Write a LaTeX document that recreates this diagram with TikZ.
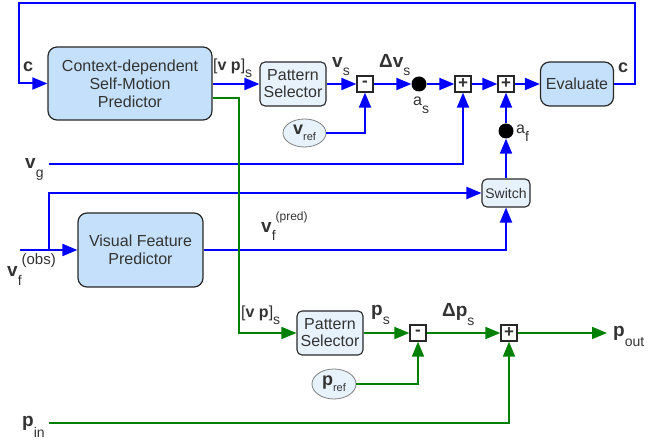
\documentclass[tikz,border=0pt]{standalone}
\usepackage{fontspec}
\setmainfont{Liberation Sans}
\usetikzlibrary{arrows.meta,shapes.geometric}
\definecolor{bl}{RGB}{0,0,255}
\definecolor{gr}{RGB}{0,128,0}
\definecolor{boxfill}{RGB}{197,224,250}
\definecolor{lightfill}{RGB}{232,242,253}
\definecolor{txt}{RGB}{51,51,51}
\definecolor{border}{RGB}{40,40,40}
\newcommand\mysub[2][8pt]{\raisebox{-#1}{\fontsize{14}{14}\selectfont\mdseries #2}}
\newcommand\mysup[3][11pt]{\raisebox{#1}{\fontsize{#2}{#2}\selectfont\mdseries #3}}
\begin{document}
\begin{tikzpicture}[x=1pt,y=-1pt,
  font=\fontsize{16}{18}\selectfont, text=txt,
  bigbox/.style={draw=border, line width=1.2pt, fill=boxfill, rounded corners=9pt, align=center, inner sep=0pt},
  selbox/.style={draw=border, line width=1.1pt, fill=lightfill, rounded corners=5pt, align=center, inner sep=0pt, font=\fontsize{16}{17}\selectfont},
  sumbox/.style={draw=border, line width=1.3pt, fill=white, minimum size=16pt, inner sep=0pt, font=\bfseries\fontsize{17}{17}\selectfont},
  blackdot/.style={circle, fill=black, minimum size=15pt, inner sep=0pt},
  refell/.style={ellipse, draw=gray, line width=0.8pt, fill=lightfill, inner sep=0pt},
  bline/.style={draw=bl, line width=2pt},
  gline/.style={draw=gr, line width=1.7pt},
  arr/.style={-{Triangle[length=15pt,width=12pt]}},
  lbl/.style={inner sep=0pt, anchor=base west},
  bigv/.style={font=\bfseries\fontsize{19}{19}\selectfont}
]
\useasboundingbox (0,0) rectangle (648,443);

% blocks
\node[bigbox, minimum width=164pt, minimum height=73pt] (cdsmp) at (130,83.5) {Context-dependent\\Self-Motion\\Predictor};
\node[selbox, minimum width=66pt, minimum height=44pt] (ps1) at (293,84) {Pattern\\Selector};
\node[sumbox] (m1) at (365,84) {-};
\node[blackdot] (as) at (419,84) {};
\node[sumbox] (p1) at (463,84) {+};
\node[sumbox] (p2) at (506,84) {+};
\node[bigbox, minimum width=73pt, minimum height=44pt] (eval) at (577,84) {Evaluate};
\node[refell, minimum width=43pt, minimum height=28pt] (vref) at (304.5,133) {\bfseries\fontsize{18}{18}\selectfont v\raisebox{-6pt}{\fontsize{11}{11}\selectfont\mdseries ref}};
\node[blackdot] (af) at (506,131) {};
\node[selbox, font=\fontsize{14}{14}\selectfont, minimum width=48pt, minimum height=28pt] (sw) at (506,193) {Switch};
\node[bigbox, minimum width=125pt, minimum height=74pt] (vfp) at (140.5,250) {Visual Feature\\Predictor};
\node[selbox, minimum width=66pt, minimum height=44pt] (ps2) at (330,333) {Pattern\\Selector};
\node[sumbox] (m2) at (418,333) {-};
\node[sumbox] (p3) at (509,333) {+};
\node[refell, minimum width=44pt, minimum height=30pt] (pref) at (334,384) {\bfseries\fontsize{18}{18}\selectfont p\raisebox{-6pt}{\fontsize{11}{11}\selectfont\mdseries ref}};

% free ends and bends
\coordinate (loopR) at (635,3);
\coordinate (loopL) at (19,3);
\coordinate (vgin) at (49,164);
\coordinate (vfin) at (20,250);
\coordinate (vfbr) at (49,250);
\coordinate (gy) at (239,98);
\coordinate (pin) at (49,423);
\coordinate (pout) at (607,333);

% blue connectors
\draw[bline,arr] (eval.east) -| (loopR) -- (loopL) |- (cdsmp.west);
\draw[bline,arr] (cdsmp.east |- ps1.west) -- (ps1.west);
\draw[bline,arr] (ps1.east) -- (m1.west);
\draw[bline,arr] (m1.east) -- (as.west);
\draw[bline,arr] (as.east) -- (p1.west);
\draw[bline,arr] (p1.east) -- (p2.west);
\draw[bline,arr] (p2.east) -- (eval.west);
\draw[bline,arr] (vref.east) -| (m1.south);
\draw[bline,arr] (vgin) -| (p1.south);
\draw[bline,arr] (vfbr) |- (sw.west);
\draw[bline,arr] (vfin) -- (vfp.west);
\draw[bline,arr] (vfp.east) -| (sw.south);
\draw[bline,arr] (sw.north) -- (af.south);
\draw[bline,arr] (af.north) -- (p2.south);

% green connectors
\draw[gline,arr] (cdsmp.east |- gy) -- (gy) |- (ps2.west);
\draw[gline,arr] (ps2.east) -- (m2.west);
\draw[gline,arr] (m2.east) -- (p3.west);
\draw[gline,arr] (p3.east) -- (pout);
\draw[gline,arr] (pref.east) -| (m2.south);
\draw[gline,arr] (pin) -| (p3.south);

% labels
\node[lbl, font=\bfseries\fontsize{18}{18}\selectfont] (lc1) at (23,72) {c};
\node[lbl, font=\bfseries\fontsize{18}{18}\selectfont] (lc2) at (618,73) {c};
\node[lbl] (lvp1) at (213,71) {[{\bfseries v p}]\mysub[7pt]{s}};
\node[lbl, bigv] (lvs) at (332,68) {v\mysub{s}};
\node[lbl, bigv] (ldvs) at (379,68) {Δv\mysub{s}};
\node[lbl] (las) at (413,106) {a\mysub{s}};
\node[lbl] (laf) at (516,134) {a\mysub{f}};
\node[lbl, bigv] (lvg) at (25,169) {v\mysub[9pt]{g}};
\node[lbl, bigv] (lvfo) at (7,277) {v\mysub[9pt]{f}\mysup[12pt]{15}{(obs)}};
\node[lbl, bigv] (lvfp) at (261,233) {v\mysub[8pt]{f}\mysup[12pt]{12}{(pred)}};
\node[lbl] (lvp2) at (241,318) {[{\bfseries v p}]\mysub[7pt]{s}};
\node[lbl, bigv] (lps) at (371,316) {p\mysub[9pt]{s}};
\node[lbl, bigv] (ldps) at (442,317) {Δp\mysub[9pt]{s}};
\node[lbl, bigv] (lpout) at (613,337) {p\mysub[10pt]{out}};
\node[lbl, bigv] (lpin) at (22,427) {p\mysub[10pt]{in}};
\end{tikzpicture}
\end{document}
